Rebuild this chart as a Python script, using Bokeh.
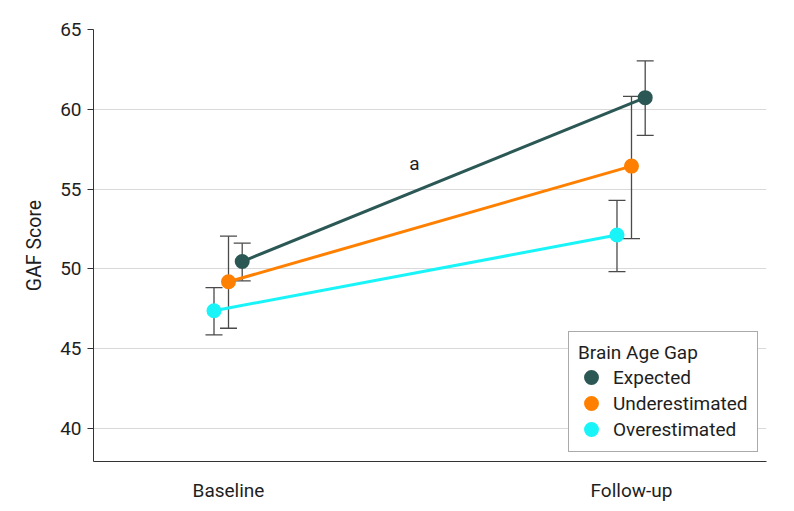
from bokeh.plotting import figure
from bokeh.models import (ColumnDataSource, Whisker, TeeHead, Legend, LegendItem,
                          FixedTicker, Label)
from bokeh.embed import file_html
from bokeh.resources import INLINE

# ---- data ----
timepoints = ["Baseline", "Follow-up"]
groups = ["Expected", "Underestimated", "Overestimated"]
expected_mean = [50.46, 60.73]
expected_lower = [49.25, 58.37]
expected_upper = [51.61, 63.03]
under_mean = [49.19, 56.44]
under_lower = [46.28, 51.89]
under_upper = [52.05, 60.81]
over_mean = [47.38, 52.12]
over_lower = [45.86, 49.83]
over_upper = [48.83, 54.29]
y_ticks = [40, 45, 50, 55, 60, 65]
annotation_text = "a"
annotation_pos = (0.4615, 56.63)

# ---- style ----
colors = ["#2b5855", "#ff8000", "#18f4f7"]
offsets = [0.034, 0.0, -0.036]
FONT = "Roboto"
TXT = "#1e1e1e"

p = figure(width=794, height=511, output_backend="svg", toolbar_location=None,
           x_range=(-0.335, 1.335), y_range=(37.93, 65.0))
p.min_border_left = 93
p.min_border_right = 28
p.min_border_top = 29
p.min_border_bottom = 50
p.outline_line_color = None
p.background_fill_color = "white"
p.border_fill_color = "white"

series = [
    (expected_mean, expected_lower, expected_upper),
    (under_mean, under_lower, under_upper),
    (over_mean, over_lower, over_upper),
]

scatter_renderers = []
for (mean, lo, hi), col, off, name in zip(series, colors, offsets, groups):
    xs = [i + off for i in range(len(timepoints))]
    src = ColumnDataSource(dict(x=xs, y=mean, lo=lo, hi=hi))
    w = Whisker(source=src, base="x", lower="lo", upper="hi", dimension="height",
                line_color="#4a4a4a", line_width=1.3,
                upper_head=TeeHead(size=17, line_color="#4a4a4a", line_width=1.3),
                lower_head=TeeHead(size=17, line_color="#4a4a4a", line_width=1.3))
    p.add_layout(w)
    p.line("x", "y", source=src, line_color=col, line_width=3)
    r = p.scatter("x", "y", source=src, size=10.5, fill_color=col, line_color=col,
                  line_width=4.5)
    scatter_renderers.append((name, r))

p.add_layout(Label(x=annotation_pos[0], y=annotation_pos[1], text=annotation_text,
                   text_font=FONT, text_font_size="19px", text_color=TXT,
                   text_align="center", text_baseline="middle"))

# axes
p.yaxis.ticker = FixedTicker(ticks=y_ticks)
p.yaxis.axis_label = "GAF Score"
p.yaxis.axis_label_text_font = FONT
p.yaxis.axis_label_text_font_style = "normal"
p.yaxis.axis_label_text_font_size = "19.5px"
p.yaxis.axis_label_text_color = TXT
p.yaxis.axis_label_standoff = 11
p.yaxis.major_label_text_font = FONT
p.yaxis.major_label_text_font_size = "19px"
p.yaxis.major_label_text_color = TXT
p.yaxis.minor_tick_line_color = None
p.yaxis.major_tick_out = 6
p.yaxis.major_tick_in = 0
p.yaxis.axis_line_color = "#333333"
p.yaxis.major_tick_line_color = "#333333"
p.yaxis.major_label_standoff = 6

p.xaxis.ticker = FixedTicker(ticks=list(range(len(timepoints))))
p.xaxis.major_label_overrides = {i: t for i, t in enumerate(timepoints)}
p.xaxis.major_label_text_font = FONT
p.xaxis.major_label_text_font_size = "19px"
p.xaxis.major_label_text_color = TXT
p.xaxis.major_tick_line_color = None
p.xaxis.minor_tick_line_color = None
p.xaxis.axis_line_color = "#333333"
p.xaxis.major_label_standoff = 11

p.xgrid.grid_line_color = None
p.ygrid.grid_line_color = "#d9d9d9"
p.ygrid.grid_line_width = 1

legend = Legend(items=[LegendItem(label=n, renderers=[r]) for n, r in scatter_renderers],
                location=(475, 9), title="Brain Age Gap",
                title_text_font=FONT, title_text_font_size="19px",
                title_text_font_style="normal", title_text_color=TXT,
                label_text_font=FONT, label_text_font_size="19px",
                label_text_color=TXT,
                border_line_color="#555555", border_line_width=1,
                background_fill_alpha=1.0,
                padding=9, spacing=0, label_height=26, glyph_height=26,
                glyph_width=26, label_standoff=9, title_standoff=0, margin=0)
p.add_layout(legend)

open("out.html", "w").write(file_html(p, INLINE))
